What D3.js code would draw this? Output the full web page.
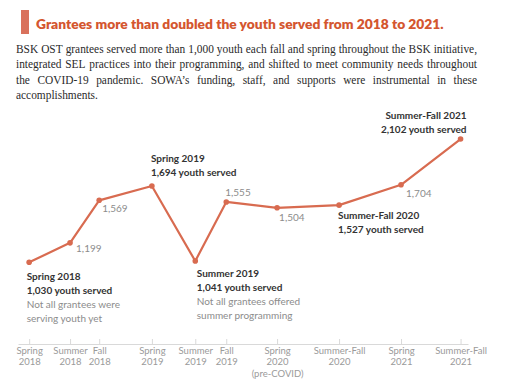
<!DOCTYPE html>
<html><head><meta charset="utf-8">
<script src="https://cdn.jsdelivr.net/npm/d3@7"></script>
<style>
html,body{margin:0;padding:0;background:#fff;}
svg{display:block;}
</style></head>
<body>
<svg id="chart" width="512" height="389"></svg>
<script>
// ---- data ----
const periods = ["Spring 2018","Summer 2018","Fall 2018","Spring 2019","Summer 2019","Fall 2019","Spring 2020","Summer-Fall 2020","Spring 2021","Summer-Fall 2021"];
const tickLabels = [["Spring","2018"],["Summer","2018"],["Fall","2018"],["Spring","2019"],["Summer","2019"],["Fall","2019"],["Spring","2020","(pre-COVID)"],["Summer-Fall","2020"],["Spring","2021"],["Summer-Fall","2021"]];
const timeValues = [2018.20, 2018.53, 2018.765, 2019.19, 2019.54, 2019.79, 2020.20, 2020.70, 2021.20, 2021.68];
const youthServed = [1030, 1199, 1569, 1694, 1041, 1555, 1504, 1527, 1704, 2102];
const highlighted = [0, 3, 4, 7, 9];
const notes = {0: ["Not all grantees were", "serving youth yet"], 4: ["Not all grantees offered", "summer programming"]};
const titleText = "Grantees more than doubled the youth served from 2018 to 2021.";
const bodyLines = [
  "BSK OST grantees served more than 1,000 youth each fall and spring throughout the BSK initiative,",
  "integrated SEL practices into their programming, and shifted to meet community needs throughout",
  "the COVID-19 pandemic. SOWA\u2019s funding, staff, and supports were instrumental in these",
  "accomplishments."
];

// ---- drawing ----
const svg = d3.select("#chart");
const orange = "#d86b50";
const x = d3.scaleLinear().domain([2018.11, 2021.74]).range([18, 468]);
const y = d3.scaleLinear().domain([1000, 2200]).range([265.75, 127.75]);
const fmt = d3.format(",");

// title
svg.append("rect").attr("x", 21).attr("y", 10).attr("width", 8).attr("height", 24).attr("fill", "#d9715c");
svg.append("text").attr("x", 36).attr("y", 29)
  .attr("font-family", "Lato, sans-serif").attr("font-weight", 800).attr("font-size", 13.8)
  .attr("fill", "#d4562f").text(titleText);

// body paragraph, justified (serif, slightly condensed to mimic Garamond)
const left = 16, right = 477;
const fs = 12.8;
let sx = 0.9;
const bodyG = svg.append("g").attr("font-family", "'Liberation Serif', serif").attr("fill", "#2a2a2a").attr("font-size", fs);
function layoutBody() {
  bodyG.selectAll("*").remove();
  bodyG.attr("transform", `scale(${sx},1)`);
  const L = left / sx, R = right / sx;
  let minGap = 99;
  bodyLines.forEach((line, i) => {
    const by = 53 + i * 15.5;
    const words = line.split(" ");
    const last = i === bodyLines.length - 1;
    const nodes = words.map(w => bodyG.append("text").attr("y", by).text(w));
    const widths = nodes.map(n => n.node().getComputedTextLength());
    const total = d3.sum(widths);
    const gap = last ? fs * 0.25 : (R - L - total) / (words.length - 1);
    if (!last) minGap = Math.min(minGap, gap);
    let cx = L;
    nodes.forEach((n, j) => { n.attr("x", cx); cx += widths[j] + gap; });
  });
  return minGap;
}
while (layoutBody() < fs * 0.25 && sx > 0.6) sx -= 0.01;

// axis
const axisY = 344;
const axis = d3.axisBottom(x).tickValues(timeValues).tickSizeInner(-5).tickSizeOuter(0).tickFormat("");
const ag = svg.append("g").attr("transform", `translate(0,${axisY})`).call(axis);
ag.select(".domain").attr("stroke", "#d9d9d9");
ag.selectAll(".tick line").attr("stroke", "#d9d9d9");
ag.selectAll(".tick").each(function(d, i) {
  const t = d3.select(this).append("text").attr("fill", "#9a9a9a")
    .attr("font-family", "Lato, sans-serif").attr("font-size", 9.5).attr("text-anchor", "middle");
  tickLabels[i].forEach((s, k) => t.append("tspan").attr("x", 0).attr("y", 9.5 + k * 11.5).text(s));
});

// line
const pts = timeValues.map((t, i) => [x(t), y(youthServed[i])]);
svg.append("path").datum(pts)
  .attr("d", d3.line())
  .attr("fill", "none").attr("stroke", orange).attr("stroke-width", 2.2).attr("stroke-linejoin", "round");
svg.selectAll("circle.pt").data(pts).join("circle").attr("class", "pt")
  .attr("cx", d => d[0]).attr("cy", d => d[1]).attr("r", 2.8).attr("fill", orange);

// value labels for non-highlighted points
const valueOffsets = {1: [6, 9], 2: [3, 12], 5: [-1, -6], 6: [2, 13], 8: [5, 12]};
Object.keys(valueOffsets).forEach(k => {
  const i = +k;
  svg.append("text").attr("x", pts[i][0] + valueOffsets[k][0]).attr("y", pts[i][1] + valueOffsets[k][1])
    .attr("font-family", "Lato, sans-serif").attr("font-size", 10).attr("fill", "#8c8c8c")
    .text(fmt(youthServed[i]));
});

// highlighted annotations
const annoPos = {0: [-2.5, 17.5, "start"], 3: [-1, -23.5, "start"], 4: [1.5, 15.5, "start"], 7: [-1, 14, "start"], 9: [6, -20.5, "end"]};
highlighted.forEach(i => {
  const [dx, dy, anchor] = annoPos[i];
  const g = svg.append("g").attr("font-family", "Lato, sans-serif").attr("text-anchor", anchor);
  const ax = pts[i][0] + dx, ay = pts[i][1] + dy;
  g.append("text").attr("x", ax).attr("y", ay).attr("font-weight", 700).attr("font-size", 10).attr("fill", "#333").text(periods[i]);
  g.append("text").attr("x", ax).attr("y", ay + 14).attr("font-weight", 700).attr("font-size", 10).attr("fill", "#333").text(fmt(youthServed[i]) + " youth served");
  (notes[i] || []).forEach((s, k) => {
    g.append("text").attr("x", ax).attr("y", ay + 28 + k * 14).attr("font-size", 10).attr("fill", "#8c8c8c").text(s);
  });
});
</script>
</body></html>
